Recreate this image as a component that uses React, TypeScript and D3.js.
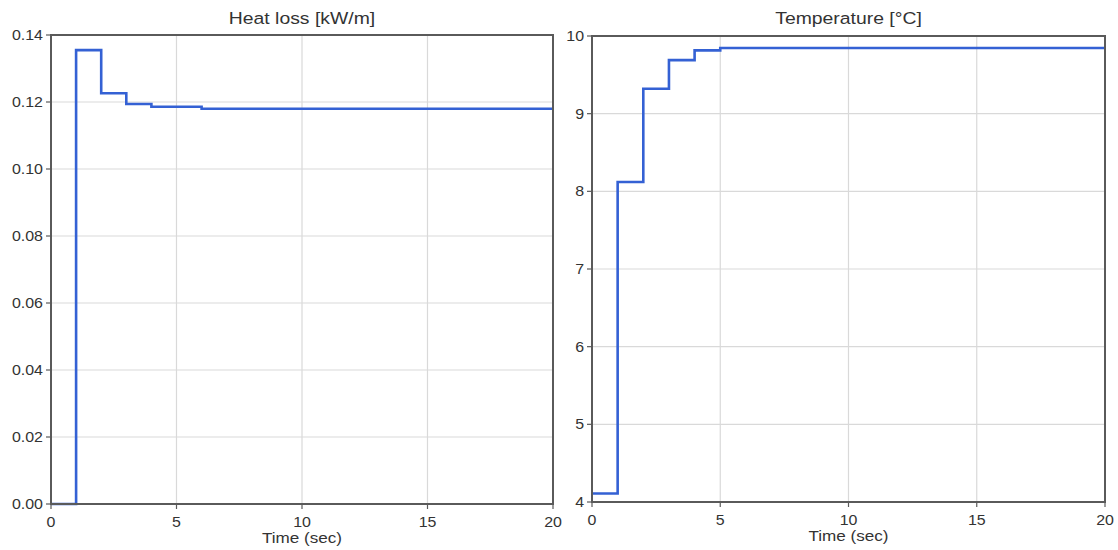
import React from "react";
import * as d3 from "d3";

const heatTimes = [0, 1, 2, 3, 4, 6, 20];
const heatValues = [0, 0.1355, 0.1226, 0.1194, 0.1186, 0.118, 0.118];
const heatTicks = [0, 0.02, 0.04, 0.06, 0.08, 0.1, 0.12, 0.14];

const tempTimes = [0, 1, 2, 3, 4, 5, 20];
const tempValues = [4.11, 8.12, 9.32, 9.69, 9.815, 9.845, 9.845];
const tempTicks = [4, 5, 6, 7, 8, 9, 10];

const timeTicks = [0, 5, 10, 15, 20];

const W = 1118;
const H = 550;
const FONT = "'Liberation Sans', Arial, sans-serif";
const LINE = "#3461d4";
const AXIS = "#5a5a5a";
const GRID = "#d9d9d9";
const TEXT = "#333";
const STRETCH = 1.14;

function Txt({ x, y, size, anchor, children }: { x: number; y: number; size: number; anchor: string; children: React.ReactNode }) {
  return (
    <text
      transform={`translate(${x},${y}) scale(${STRETCH},1)`}
      textAnchor={anchor}
      fontSize={size}
      fill={TEXT}
      fontFamily={FONT}
    >
      {children}
    </text>
  );
}

type PanelProps = {
  title: string;
  times: number[];
  values: number[];
  yDomain: [number, number];
  yTicks: number[];
  yFmt: (v: number) => string;
  left: number;
  right: number;
  top: number;
  bottom: number;
};

function Panel({ title, times, values, yDomain, yTicks, yFmt, left, right, top, bottom }: PanelProps) {
  const x = d3.scaleLinear().domain([0, 20]).range([left, right]);
  const y = d3.scaleLinear().domain(yDomain).range([bottom, top]);
  const pts = times.map((t, i) => [t, values[i]] as [number, number]);
  const line = d3
    .line<[number, number]>()
    .x((d) => x(d[0]))
    .y((d) => y(d[1]))
    .curve(d3.curveStepAfter);
  const cx = (left + right) / 2;
  return (
    <g>
      {timeTicks.map((t) => (
        <line key={"gx" + t} x1={x(t)} x2={x(t)} y1={top} y2={bottom} stroke={GRID} strokeWidth={1.2} />
      ))}
      {yTicks.map((v) => (
        <line key={"gy" + v} x1={left} x2={right} y1={y(v)} y2={y(v)} stroke={GRID} strokeWidth={1.2} />
      ))}
      <path d={line(pts) || ""} fill="none" stroke={LINE} strokeWidth={2.6} />
      <rect x={left} y={top} width={right - left} height={bottom - top} fill="none" stroke={AXIS} strokeWidth={2} />
      {yTicks.map((v) => (
        <g key={"ty" + v}>
          <line x1={left - 5} x2={left} y1={y(v)} y2={y(v)} stroke={AXIS} strokeWidth={1.2} />
          <Txt x={left - 8} y={y(v) + 5} size={14} anchor="end">
            {yFmt(v)}
          </Txt>
        </g>
      ))}
      {timeTicks.map((t) => (
        <g key={"tx" + t}>
          <line x1={x(t)} x2={x(t)} y1={bottom} y2={bottom + 5} stroke={AXIS} strokeWidth={1.2} />
          <Txt x={x(t)} y={bottom + 23} size={14} anchor="middle">
            {t}
          </Txt>
        </g>
      ))}
      <Txt x={cx} y={24} size={17} anchor="middle">
        {title}
      </Txt>
      <Txt x={cx} y={bottom + 39} size={15} anchor="middle">
        Time (sec)
      </Txt>
    </g>
  );
}

export default function App() {
  return (
    <svg width={W} height={H} style={{ position: "absolute", left: 0, top: 0, background: "#fff" }}>
      <Panel
        title="Heat loss [kW/m]"
        times={heatTimes}
        values={heatValues}
        yDomain={[0, 0.14]}
        yTicks={heatTicks}
        yFmt={(v) => d3.format(".2f")(v)}
        left={51}
        right={553}
        top={35}
        bottom={504}
      />
      <Panel
        title="Temperature [°C]"
        times={tempTimes}
        values={tempValues}
        yDomain={[4, 10]}
        yTicks={tempTicks}
        yFmt={(v) => String(v)}
        left={592}
        right={1105}
        top={36}
        bottom={502}
      />
    </svg>
  );
}
